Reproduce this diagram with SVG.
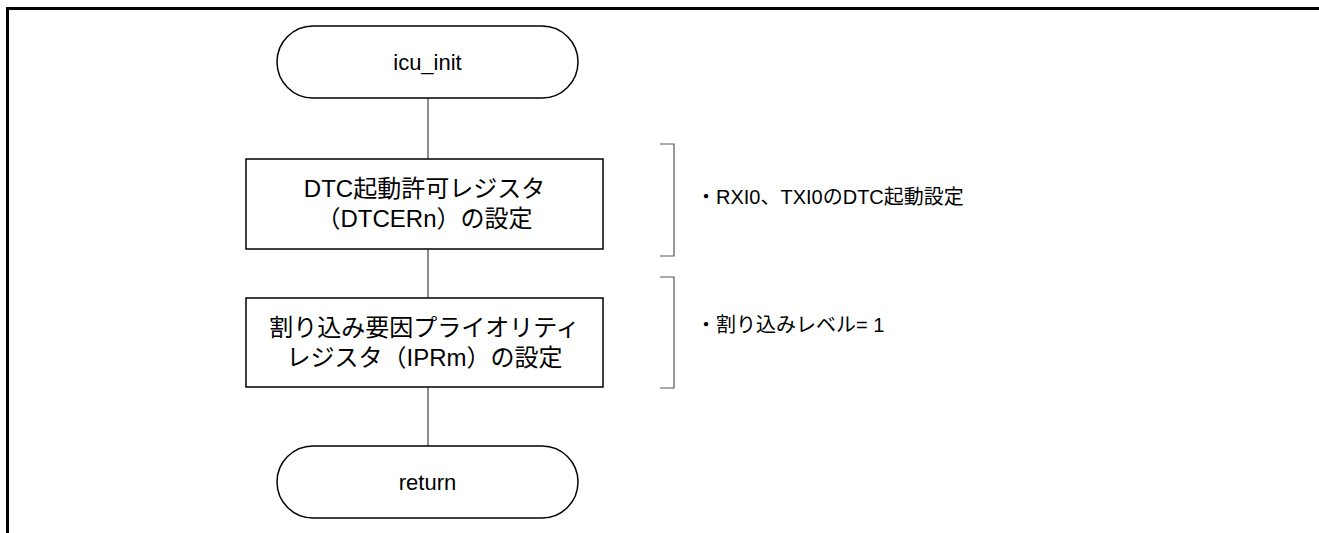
<svg xmlns="http://www.w3.org/2000/svg" width="1319" height="533" viewBox="0 0 1319 533">
<style>
.frame{fill:none;stroke:#000;stroke-width:3}
.term{fill:#fff;stroke:#000;stroke-width:1.5}
.box{fill:#fff;stroke:#000;stroke-width:1.5}
.conn{fill:none;stroke:#444;stroke-width:1.2}
.brk{fill:none;stroke:#555;stroke-width:1.2}
.t{font-family:"Liberation Sans","Noto Sans CJK JP",sans-serif;fill:#000;text-anchor:middle}
.tb{font-size:24px}
.tt{font-size:22px}
.ta{font-family:"Liberation Sans","Noto Sans CJK JP",sans-serif;fill:#000;font-size:20px}
</style>
<rect width="1319" height="533" fill="#fff"/>
<path class="frame" d="M7.5 533 V8.5 H1319"/>
<g id="connectors">
<line class="conn" x1="428" y1="98" x2="428" y2="159"/>
<line class="conn" x1="428" y1="249" x2="428" y2="298"/>
<line class="conn" x1="428" y1="387" x2="428" y2="446"/>
</g>
<g id="start">
<rect class="term" x="277" y="26" width="301" height="72" rx="36" ry="36"/>
<text class="t tt" x="427.5" y="70">icu_init</text>
</g>
<g id="dtcer">
<rect class="box" x="246" y="159" width="357" height="90"/>
<text class="t tb" x="424.5" y="197">DTC起動許可レジスタ</text>
<text class="t tb" x="424.5" y="227">（DTCERn）の設定</text>
</g>
<g id="ipr">
<rect class="box" x="246" y="298" width="357" height="89"/>
<text class="t tb" x="424.5" y="336">割り込み要因プライオリティ</text>
<text class="t tb" x="424.5" y="366">レジスタ（IPRm）の設定</text>
</g>
<g id="end">
<rect class="term" x="277" y="446" width="301" height="72" rx="36" ry="36"/>
<text class="t tt" x="427.5" y="490">return</text>
</g>
<g id="note1">
<path class="brk" d="M660 144 H674 V256 H660"/>
<text class="ta" x="696" y="204">・RXI0、TXI0のDTC起動設定</text>
</g>
<g id="note2">
<path class="brk" d="M660 277 H674 V388 H660"/>
<text class="ta" x="696" y="332">・割り込みレベル= 1</text>
</g>
</svg>
